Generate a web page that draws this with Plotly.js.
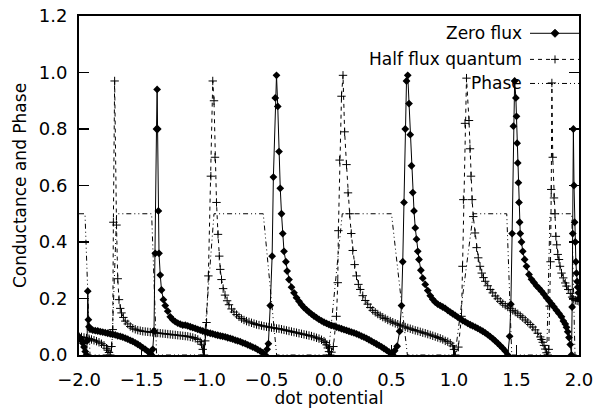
<!DOCTYPE html>
<html>
<head>
<meta charset="utf-8">
<script src="https://cdn.plot.ly/plotly-3.0.1.min.js"></script>
<style>html,body{margin:0;padding:0;background:#fff;}#chart{width:597px;height:408px;}</style>
</head>
<body>
<div id="chart"></div>
<script>
// ---- Data ----
const seriesNames = ["Zero flux", "Half flux quantum", "Phase"];

// Zero flux (solid line, filled diamonds)
const zeroFluxX = [
-2.00,-1.99,-1.98,-1.97,-1.96,-1.95,-1.94,-1.935,-1.93,-1.925,-1.92,-1.91,-1.89,-1.87,-1.85,-1.83,-1.81,-1.79,-1.77,-1.75,-1.73,-1.71,-1.69,-1.67,-1.65,-1.63,-1.61,-1.59,-1.57,-1.55,-1.53,-1.51,-1.49,-1.47,-1.45,-1.43,-1.42,
-1.41,-1.40,-1.39,-1.38,-1.375,-1.37,-1.365,-1.36,-1.35,-1.34,-1.325,-1.31,-1.29,-1.27,-1.25,-1.23,-1.21,-1.19,-1.17,-1.15,-1.13,-1.11,-1.09,-1.07,-1.05,-1.03,-1.01,-0.99,-0.97,-0.95,-0.93,-0.91,-0.89,-0.87,-0.85,-0.83,-0.81,-0.79,-0.77,-0.75,-0.73,-0.71,-0.69,-0.67,-0.65,-0.63,-0.61,-0.59,-0.57,-0.55,-0.53,-0.51,
-0.495,-0.485,-0.47,-0.455,-0.445,-0.43,-0.42,-0.41,-0.40,-0.39,-0.38,-0.37,-0.36,-0.345,-0.335,-0.32,-0.30,-0.28,-0.26,-0.24,-0.22,-0.20,-0.18,-0.16,-0.14,-0.12,-0.10,-0.08,-0.06,-0.04,-0.02,0.00,0.02,0.04,0.06,0.08,0.10,0.12,0.14,0.16,0.18,0.20,0.22,0.24,0.26,0.28,0.30,0.32,0.34,0.36,0.38,0.40,0.42,0.44,0.46,0.48,0.50,0.51,
0.525,0.545,0.565,0.58,0.59,0.60,0.61,0.62,0.63,0.64,0.65,0.66,0.67,0.68,0.69,0.70,0.71,0.72,0.735,0.75,0.77,0.79,0.81,0.83,0.85,0.87,0.89,0.91,0.93,0.95,0.97,0.99,1.01,1.03,1.05,1.07,1.09,1.11,1.13,1.15,1.17,1.19,1.21,1.23,1.25,1.27,1.29,1.31,1.33,1.35,1.37,1.39,1.41,1.43,
1.445,1.455,1.465,1.475,1.485,1.495,1.50,1.505,1.51,1.515,1.52,1.525,1.53,1.54,1.55,1.565,1.58,1.60,1.62,1.64,1.66,1.68,1.70,1.72,1.74,1.76,1.78,1.80,1.82,1.84,1.86,1.875,1.89,1.90,1.91,1.92,1.93,1.94,
1.945,1.95,1.955,1.96,1.965,1.97,1.975,1.98,1.985,1.99,1.995,2.00];
const zeroFluxY = [
0.065,0.06,0.052,0.042,0.028,0.012,0.0,0.05,0.226,0.125,0.10,0.092,0.088,0.086,0.085,0.083,0.081,0.079,0.077,0.075,0.073,0.071,0.068,0.066,0.063,0.06,0.056,0.052,0.048,0.043,0.038,0.032,0.026,0.02,0.013,0.006,0.0,
0.02,0.085,0.36,0.80,0.94,0.80,0.51,0.36,0.283,0.23,0.196,0.175,0.155,0.135,0.125,0.118,0.113,0.109,0.106,0.106,0.103,0.10,0.097,0.094,0.091,0.088,0.085,0.082,0.079,0.077,0.075,0.072,0.07,0.068,0.066,0.064,0.061,0.059,0.056,0.053,0.05,0.047,0.043,0.04,0.036,0.032,0.028,0.024,0.019,0.014,0.008,0.0,
0.02,0.04,0.175,0.35,0.63,0.91,0.99,0.88,0.72,0.59,0.50,0.43,0.367,0.33,0.297,0.267,0.24,0.22,0.203,0.19,0.178,0.168,0.16,0.152,0.145,0.138,0.132,0.126,0.121,0.116,0.112,0.108,0.105,0.102,0.099,0.096,0.093,0.09,0.087,0.084,0.081,0.078,0.075,0.071,0.067,0.063,0.059,0.054,0.049,0.044,0.039,0.034,0.029,0.023,0.017,0.011,0.005,0.0,
0.015,0.031,0.084,0.175,0.33,0.54,0.80,0.97,0.99,0.89,0.78,0.67,0.575,0.51,0.45,0.41,0.367,0.338,0.30,0.272,0.25,0.228,0.21,0.197,0.187,0.18,0.175,0.17,0.165,0.158,0.152,0.146,0.14,0.134,0.128,0.122,0.117,0.112,0.107,0.103,0.099,0.094,0.089,0.084,0.078,0.072,0.065,0.058,0.05,0.042,0.033,0.024,0.014,0.0,
0.066,0.18,0.43,0.81,0.97,0.91,0.845,0.75,0.68,0.61,0.54,0.47,0.43,0.40,0.367,0.338,0.314,0.285,0.268,0.257,0.245,0.236,0.226,0.215,0.203,0.192,0.181,0.17,0.158,0.147,0.135,0.12,0.11,0.098,0.082,0.062,0.037,0.0,
0.17,0.43,0.80,0.60,0.47,0.40,0.33,0.29,0.26,0.24,0.22,0.20];

// Half flux quantum (dashed line, + markers)
const halfFluxX = [
-2.00,-1.98,-1.96,-1.94,-1.92,-1.90,-1.88,-1.86,-1.84,-1.82,-1.80,-1.78,-1.77,-1.76,-1.75,
-1.74,-1.73,-1.725,-1.715,-1.70,-1.69,-1.68,-1.67,-1.66,-1.645,-1.63,-1.61,-1.59,-1.57,-1.55,-1.53,-1.51,-1.49,-1.47,-1.45,-1.43,-1.41,-1.39,-1.37,-1.35,-1.33,-1.31,-1.29,-1.27,-1.25,-1.23,-1.21,-1.19,-1.17,-1.15,-1.13,-1.11,-1.09,-1.07,-1.05,-1.03,-1.02,-1.01,-1.00,
-0.99,-0.98,-0.965,-0.945,-0.93,-0.92,-0.912,-0.90,-0.888,-0.878,-0.87,-0.86,-0.847,-0.832,-0.815,-0.80,-0.78,-0.76,-0.74,-0.72,-0.70,-0.68,-0.66,-0.64,-0.62,-0.60,-0.58,-0.56,-0.54,-0.52,-0.50,-0.48,-0.46,-0.44,-0.42,-0.40,-0.38,-0.36,-0.34,-0.32,-0.30,-0.28,-0.26,-0.24,-0.22,-0.20,-0.18,-0.16,-0.14,-0.12,-0.10,-0.08,-0.06,-0.04,-0.03,-0.02,-0.01,0.00,0.01,
0.02,0.035,0.06,0.07,0.075,0.085,0.10,0.112,0.125,0.14,0.152,0.165,0.178,0.19,0.205,0.22,0.235,0.25,0.27,0.29,0.31,0.33,0.35,0.37,0.39,0.41,0.43,0.45,0.47,0.49,0.51,0.53,0.55,0.57,0.59,0.61,0.63,0.65,0.67,0.69,0.71,0.73,0.75,0.77,0.79,0.81,0.83,0.85,0.87,0.89,0.91,0.93,0.95,0.97,0.99,1.00,1.01,
1.035,1.06,1.068,1.075,1.088,1.10,1.12,1.128,1.136,1.145,1.154,1.168,1.181,1.194,1.208,1.222,1.236,1.25,1.27,1.29,1.31,1.33,1.35,1.37,1.39,1.41,1.43,1.45,1.47,1.49,1.51,1.53,1.55,1.57,1.59,1.61,1.63,1.65,1.67,1.69,1.70,1.71,1.72,1.73,1.74,1.75,
1.758,1.765,1.772,1.778,1.783,1.79,1.80,1.808,1.815,1.822,1.83,1.84,1.848,1.86,1.874,1.89,1.90,1.914,1.93,1.945,1.954,1.97,1.985,2.00];
const halfFluxY = [
0.065,0.064,0.062,0.06,0.058,0.055,0.052,0.049,0.045,0.04,0.034,0.024,0.017,0.009,0.0,
0.03,0.09,0.47,0.97,0.46,0.27,0.196,0.165,0.149,0.133,0.12,0.11,0.101,0.095,0.091,0.088,0.086,0.084,0.083,0.082,0.081,0.08,0.079,0.078,0.077,0.076,0.075,0.074,0.073,0.072,0.071,0.07,0.069,0.068,0.067,0.066,0.064,0.062,0.059,0.055,0.047,0.038,0.02,0.0,
0.05,0.115,0.28,0.633,0.97,0.90,0.70,0.54,0.427,0.35,0.303,0.267,0.235,0.212,0.192,0.178,0.163,0.152,0.143,0.135,0.129,0.124,0.12,0.117,0.114,0.111,0.108,0.106,0.104,0.102,0.10,0.099,0.097,0.096,0.094,0.093,0.091,0.089,0.087,0.085,0.083,0.081,0.079,0.077,0.075,0.073,0.071,0.069,0.067,0.064,0.061,0.058,0.054,0.049,0.044,0.036,0.025,0.012,0.0,
0.01,0.03,0.137,0.256,0.44,0.69,0.916,0.99,0.79,0.674,0.574,0.50,0.43,0.37,0.32,0.28,0.25,0.232,0.21,0.193,0.18,0.168,0.158,0.151,0.145,0.139,0.134,0.129,0.124,0.12,0.116,0.112,0.109,0.105,0.102,0.099,0.096,0.093,0.09,0.087,0.085,0.082,0.079,0.077,0.074,0.071,0.068,0.065,0.062,0.059,0.055,0.05,0.047,0.042,0.032,0.02,0.0,
0.028,0.137,0.314,0.55,0.82,0.98,0.83,0.73,0.633,0.55,0.49,0.432,0.38,0.344,0.314,0.29,0.274,0.261,0.245,0.232,0.22,0.209,0.199,0.19,0.182,0.176,0.17,0.164,0.158,0.152,0.146,0.139,0.132,0.124,0.116,0.108,0.099,0.089,0.077,0.064,0.055,0.045,0.034,0.021,0.008,0.0,
0.02,0.173,0.33,0.586,0.963,0.70,0.556,0.50,0.42,0.39,0.356,0.338,0.314,0.29,0.273,0.255,0.244,0.232,0.218,0.205,0.197,0.194,0.192,0.19];

// Phase (dash-dot line, no markers)
const phaseX = [-2.0,-1.952,-1.912,-1.739,-1.699,-1.419,-1.379,-1.006,-0.92,-0.526,-0.419,-0.006,0.106,0.50,0.627,1.008,1.154,1.422,1.462,1.742,1.768,1.942,1.968,2.0];
const phaseY = [0.5,0.5,0.0,0.0,0.5,0.5,0.0,0.0,0.5,0.5,0.0,0.0,0.5,0.5,0.0,0.0,0.5,0.5,0.0,0.0,0.5,0.5,0.0,0.0];

const xTickVals = [-2.0,-1.5,-1.0,-0.5,0.0,0.5,1.0,1.5,2.0];
const yTickVals = [0.0,0.2,0.4,0.6,0.8,1.0,1.2];

// ---- Styles ----
const FONT = "DejaVu Sans, Liberation Sans, Arial, sans-serif";
const dashDotDot = "5px,3px,1px,3px,1px,3px";

const traces = [
  {x: zeroFluxX, y: zeroFluxY, name: seriesNames[0], type: "scatter", mode: "lines+markers",
   line: {color: "black", width: 1},
   marker: {symbol: "diamond", size: 6, color: "black"}, showlegend: false},
  {x: halfFluxX, y: halfFluxY, name: seriesNames[1], type: "scatter", mode: "lines+markers",
   line: {color: "black", width: 1, dash: "4px,4px"},
   marker: {symbol: "cross-thin", size: 6, color: "black", line: {color: "black", width: 1}}, showlegend: false},
  {x: phaseX, y: phaseY, name: seriesNames[2], type: "scatter", mode: "lines",
   line: {color: "black", width: 1, dash: dashDotDot}, showlegend: false}
];

// custom gnuplot-style key (text, then sample to its right)
const keyRows = [0.949, 0.872, 0.801];
const keyTextX = 0.89, keyL = 0.902, keyR = 1.0, keyM = 0.952;
const annotations = seriesNames.map((s, i) => ({
  text: s, xref: "paper", yref: "paper", x: keyTextX, y: keyRows[i],
  xanchor: "right", yanchor: "middle", showarrow: false,
  font: {family: FONT, size: 17, color: "black"}
}));
const dx = 0.008, dy = 0.0118;
const shapes = [
  {type: "line", xref: "paper", yref: "paper", x0: keyL, x1: keyR, y0: keyRows[0], y1: keyRows[0], line: {color: "black", width: 1}},
  {type: "path", xref: "paper", yref: "paper",
   path: `M ${keyM-dx} ${keyRows[0]} L ${keyM} ${keyRows[0]+dy} L ${keyM+dx} ${keyRows[0]} L ${keyM} ${keyRows[0]-dy} Z`,
   fillcolor: "black", line: {color: "black", width: 1}},
  {type: "line", xref: "paper", yref: "paper", x0: keyL, x1: keyR, y0: keyRows[1], y1: keyRows[1], line: {color: "black", width: 1, dash: "4px,4px"}},
  {type: "line", xref: "paper", yref: "paper", x0: keyM-dx, x1: keyM+dx, y0: keyRows[1], y1: keyRows[1], line: {color: "black", width: 1}},
  {type: "line", xref: "paper", yref: "paper", x0: keyM, x1: keyM, y0: keyRows[1]-dy, y1: keyRows[1]+dy, line: {color: "black", width: 1}},
  {type: "line", xref: "paper", yref: "paper", x0: keyL, x1: keyR, y0: keyRows[2], y1: keyRows[2], line: {color: "black", width: 1, dash: dashDotDot}}
];

const layout = {
  width: 597, height: 408,
  margin: {l: 79, r: 18, t: 16, b: 53, pad: 0},
  paper_bgcolor: "white", plot_bgcolor: "white",
  font: {family: FONT, size: 18, color: "black"},
  showlegend: false,
  xaxis: {
    range: [-2, 2], tickvals: xTickVals, tickformat: ".1f",
    ticks: "inside", ticklen: 10, tickwidth: 1.5, tickcolor: "black",
    showline: true, linecolor: "black", linewidth: 2, mirror: true,
    showgrid: false, zeroline: false, ticklabelstandoff: 7,
    tickfont: {family: FONT, size: 18, color: "black"},
    title: {text: "dot potential", font: {family: FONT, size: 17, color: "black"}, standoff: 0}
  },
  yaxis: {
    range: [0, 1.2], tickvals: yTickVals, tickformat: ".1f",
    ticks: "inside", ticklen: 10, tickwidth: 1.5, tickcolor: "black",
    showline: true, linecolor: "black", linewidth: 2, mirror: "ticks",
    showgrid: false, zeroline: false, ticklabelstandoff: 6,
    tickfont: {family: FONT, size: 18, color: "black"},
    title: {text: "Conductance and Phase", font: {family: FONT, size: 17, color: "black"}, standoff: 8}
  },
  annotations: annotations,
  shapes: shapes
};

Plotly.newPlot("chart", traces, layout, {displayModeBar: false, staticPlot: true});
</script>
</body>
</html>
